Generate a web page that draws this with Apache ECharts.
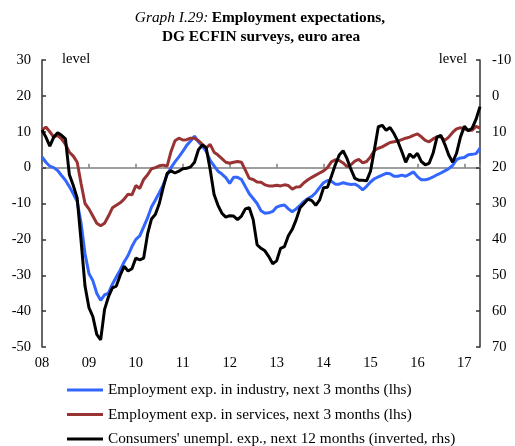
<!DOCTYPE html>
<html>
<head>
<meta charset="utf-8">
<script src="https://cdn.jsdelivr.net/npm/echarts@6/dist/echarts.min.js"></script>
<style>
html,body{margin:0;padding:0;background:#fff;}
#chart{width:515px;height:446px;}
</style>
</head>
<body>
<div id="chart"></div>
<script>
// Monthly data, Jan 2008 .. May 2017
var startYear = 2008;
var yearLabels = ['08','09','10','11','12','13','14','15','16','17'];
var industry = [3.0,1.5,0.4,0,-0.8,-2.2,-3.5,-5.3,-7.3,-9.5,-15.5,-24,
  -29.5,-31.5,-35,-37,-35.5,-35,-32.5,-30.5,-28.5,-26.3,-24.5,-22,
  -20,-19,-16.5,-14,-11,-9,-7,-4.8,-2,0,1.6,3,
  4.5,6.2,7.4,8.8,7.2,6,4.5,2,0.5,-1,-1.8,-2.8,
  -4.4,-2.7,-2.7,-3.3,-5.3,-7.3,-8.6,-10,-12,-12.7,-12.6,-12.2,
  -11,-10.6,-10.4,-11.5,-12.3,-11.5,-10.5,-9.4,-8.6,-8,-7,-5.5,
  -4.2,-3.6,-3.8,-4.6,-4.6,-4.2,-4.5,-4.7,-4.6,-5.2,-6.2,-5.2,
  -4,-3.1,-2.6,-2.1,-1.6,-1.7,-2.4,-2.4,-2.1,-2.4,-1.8,-1.2,
  -2.5,-3.4,-3.4,-3.1,-2.6,-2.0,-1.5,-0.9,-0.3,0.6,2.2,2.7,
  2.8,3.6,3.7,3.9,5.4];
var services = [10.5,11.3,10,8.5,9.0,8.0,6.5,4.3,3.2,1.5,-4.5,-10,
  -11.5,-13.5,-15.5,-16.2,-15.5,-13.5,-11.2,-10.5,-9.8,-8.8,-7.4,-7.6,
  -5,-5.8,-3.3,-2,-0.3,0,0.5,0.7,0.4,4.5,7.5,8.2,
  7.7,7.8,8.2,8.2,7.5,6.5,5.5,6.5,4.3,3.5,2.5,1.5,
  1.2,1.5,1.7,1.5,-0.7,-3,-3.3,-4,-4.1,-4.8,-5.1,-5.1,
  -4.9,-5.1,-4.8,-5,-6,-5.4,-5.3,-4.2,-3.4,-2.7,-2.1,-1.5,
  -0.9,0,1.6,2.2,2.0,1.3,0.3,0.8,1.8,2.3,1.3,1.7,
  3,4.8,5.4,5.8,6.4,7,7.2,7.4,7.8,8.2,8.5,9.0,
  9.4,8.6,7.6,7.2,8.0,8.6,8.6,7.6,8.5,9.8,10.8,11.1,
  10.8,10.4,10.4,11.5,11.0];
var consumers = [9.5,11.5,14,11.5,10.3,11,12,22,25,28.5,40.5,53,
  59,61.5,66.5,68,59.5,56,53.5,53,50,47.5,48.8,48.2,
  45.2,45.7,45.2,38.5,34.3,33,30,25.5,21.6,20.9,21.5,21,
  20.3,20.2,19.8,18.5,15,13.7,14.5,20.5,27.5,30.5,32.7,33.8,
  33.4,33.5,34.5,33.5,31.5,31.2,34.5,41.5,42.5,43.2,44.8,46.8,
  46,42.5,42,39,37.2,34.5,31.2,30,28.8,29.2,30.5,29,
  25.6,25.5,22.4,19.2,16.5,15.3,17.5,20.5,23,23.5,23.5,23.7,
  21,15,8.6,8.2,9.6,8.8,10.5,12.7,15.5,18.5,16.2,17.2,
  16,18.3,19.2,18.8,16,11.5,11,13.5,16.5,18.5,16,11.5,
  8.5,9.7,9,6.5,3];
var names = [
  'Employment exp. in industry, next 3 months (lhs)',
  'Employment exp. in services, next 3 months (lhs)',
  "Consumers' unempl. exp., next 12 months (inverted, rhs)"
];

function toXY(arr){
  return arr.map(function(v,i){ return [startYear + i/12, v]; });
}
var nMonths = industry.length;
var xMax = startYear + (nMonths-1)/12;
var serif = '"Liberation Serif","Times New Roman",serif';

var chart = echarts.init(document.getElementById('chart'));
chart.setOption({
  animation:false,
  backgroundColor:'#fff',
  textStyle:{fontFamily:serif},
  graphic:[
    {type:'text', x:260, y:18,
      style:{text:'{i|Graph I.29:} {b|Employment expectations,}',
        align:'center', verticalAlign:'middle',
        rich:{i:{fontStyle:'italic',fontSize:15.4,fontFamily:serif,fill:'#000'},
              b:{fontWeight:'bold',fontSize:15.4,fontFamily:serif,fill:'#000'}}}},
    {type:'text', x:261, y:37,
      style:{text:'DG ECFIN surveys, euro area', align:'center', verticalAlign:'middle',
        font:'bold 15.4px '+serif, fill:'#000'}},
    {type:'text', left:62, top:52, style:{text:'level', font:'14.5px '+serif, fill:'#000'}},
    {type:'text', right:48, top:52, style:{text:'level', font:'14.5px '+serif, fill:'#000'}}
  ],
  grid:{left:42,right:35,top:60,bottom:99,containLabel:false},
  legend:{
    orient:'vertical', left:67, top:381, height:90, padding:0,
    icon:'rect', itemWidth:36, itemHeight:3, itemGap:6.5,
    textStyle:{fontFamily:serif,fontSize:15.3,color:'#000',lineHeight:18},
    data:names
  },
  xAxis:[
    {type:'value', min:startYear, max:xMax, interval:1, position:'bottom',
      axisLine:{show:false,onZero:false}, axisTick:{show:false}, splitLine:{show:false},
      axisLabel:{color:'#000',fontSize:14.5,fontFamily:serif,margin:9,
        formatter:function(v){ var k=Math.round(v-startYear); return (Math.abs(v-Math.round(v))<1e-6 && k>=0 && k<yearLabels.length)? yearLabels[k] : ''; }}},
    {type:'value', min:startYear, max:xMax, interval:1, position:'bottom',
      axisLine:{show:true,onZero:true,onZeroAxisIndex:0,lineStyle:{color:'#7f7f7f',width:1.5}},
      axisTick:{show:true,inside:true,length:4,lineStyle:{color:'#7f7f7f',width:1.5}},
      axisLabel:{show:false}, splitLine:{show:false}}
  ],
  yAxis:[
    {type:'value', min:-50, max:30, interval:10, position:'left',
      axisLine:{show:true,lineStyle:{color:'#333',width:1.5}},
      axisTick:{show:true,inside:true,length:4,lineStyle:{color:'#333',width:1.5}},
      axisLabel:{color:'#000',fontSize:14.5,fontFamily:serif,margin:11},
      splitLine:{show:false}},
    {type:'value', min:-10, max:70, interval:10, position:'right', inverse:true,
      axisLine:{show:true,lineStyle:{color:'#333',width:1.5}},
      axisTick:{show:true,inside:true,length:4,lineStyle:{color:'#333',width:1.5}},
      axisLabel:{color:'#000',fontSize:14.5,fontFamily:serif,margin:12},
      splitLine:{show:false}}
  ],
  series:[
    {name:names[0], type:'line', xAxisIndex:1, yAxisIndex:0, data:toXY(industry), showSymbol:false,
      color:'#3366ff', lineStyle:{color:'#3366ff',width:3}},
    {name:names[1], type:'line', xAxisIndex:1, yAxisIndex:0, data:toXY(services), showSymbol:false,
      color:'#993333', lineStyle:{color:'#993333',width:3}},
    {name:names[2], type:'line', xAxisIndex:1, yAxisIndex:1, data:toXY(consumers), showSymbol:false,
      color:'#000000', lineStyle:{color:'#000000',width:3}}
  ]
});
</script>
</body>
</html>
